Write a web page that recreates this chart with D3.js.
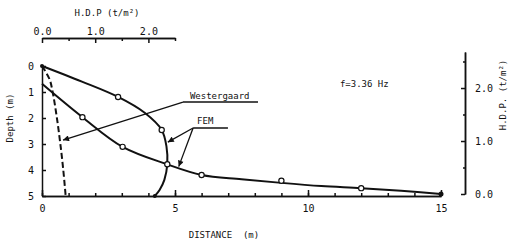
<!DOCTYPE html>
<html><head><meta charset="utf-8">
<script src="https://cdn.jsdelivr.net/npm/d3@7"></script>
<style>
body{margin:0;background:#fff;}
text{font-family:"DejaVu Sans Mono",monospace;fill:#111;}
</style></head>
<body><svg id="c" width="508" height="242"></svg>
<script>
// ---- data ----
const distTicks = [0, 5, 10, 15];
const depthTicks = [0, 1, 2, 3, 4, 5];
const topTicks = [0, 1, 2];
const rightTicks = [0, 1, 2];

// Westergaard (H.D.P., top axis) vs depth
const westDepth = [0, 0.5, 1, 2, 3, 4, 5];
const westHDP   = [0, 0.14, 0.2, 0.28, 0.345, 0.40, 0.445];

// FEM H.D.P. vs depth (top axis)
const femDepth = [0, 0.6, 1.19, 1.8, 2.46, 3.1, 3.78, 4.38, 4.77, 5.0];
const femHDP   = [0, 0.75, 1.43, 1.93, 2.25, 2.34, 2.355, 2.30, 2.21, 2.12];
const femMarkDepth = [1.19, 2.46, 3.78];
const femMarkHDP   = [1.43, 2.25, 2.355];

// FEM H.D.P. vs distance (right axis)
const surfDist = [0, 1.52, 3.03, 4.71, 6.0, 7.5, 9.0, 10.5, 12.0, 13.5, 15.0];
const surfHDP  = [2.08, 1.45, 0.89, 0.56, 0.36, 0.28, 0.21, 0.15, 0.11, 0.06, 0.0];
const surfMarkDist = [1.52, 3.03, 6.0, 9.0, 12.0];
const surfMarkHDP  = [1.45, 0.89, 0.36, 0.25, 0.11];

// ---- scales ----
const svg = d3.select("#c");
const x = d3.scaleLinear().domain([0, 15]).range([42, 441]);
const y = d3.scaleLinear().domain([0, 5]).range([66, 196]);
const xTop = d3.scaleLinear().domain([0, 2.5]).range([42, 175]);
const yR = d3.scaleLinear().domain([0, 2.68]).range([194, 52]);

function styleAxis(g){
  g.selectAll("path,line").attr("stroke","#111").attr("stroke-width",1.5);
  g.selectAll("text").attr("font-family","DejaVu Sans Mono").attr("font-size",10).attr("fill","#111");
}

// bottom axis
svg.append("g").attr("transform","translate(0,196)")
  .call(d3.axisBottom(x).tickValues(d3.range(0,16,1)).tickFormat("").tickSize(-3).tickSizeOuter(0)).call(styleAxis);
svg.append("g").attr("transform","translate(0,196)")
  .call(d3.axisBottom(x).tickValues(distTicks).tickFormat(d3.format("d")).tickSize(-6).tickPadding(9).tickSizeOuter(0)).call(styleAxis);

// left axis
svg.append("g").attr("transform","translate(42,0)")
  .call(d3.axisLeft(y).tickValues(depthTicks).tickFormat(d3.format("d")).tickSize(-4).tickPadding(8).tickSizeOuter(0)).call(styleAxis);

// top axis
svg.append("g").attr("transform","translate(0,38)")
  .call(d3.axisTop(xTop).tickValues([0.5,1.5,2.5]).tickFormat("").tickSize(-3).tickSizeOuter(0)).call(styleAxis);
svg.append("g").attr("transform","translate(0,38)")
  .call(d3.axisTop(xTop).tickValues(topTicks).tickFormat(d3.format(".1f")).tickSize(-5).tickPadding(3).tickSizeOuter(0)).call(styleAxis);

// right axis
svg.append("g").attr("transform","translate(465,0)")
  .call(d3.axisRight(yR).tickValues([0.5,1.5,2.5]).tickFormat("").tickSize(-2).tickSizeOuter(0)).call(styleAxis);
svg.append("g").attr("transform","translate(465,0)")
  .call(d3.axisRight(yR).tickValues(rightTicks).tickFormat(d3.format(".1f")).tickSize(-4).tickPadding(10).tickSizeOuter(0)).call(styleAxis);

// ---- curves ----
const lineV = d3.line().curve(d3.curveCatmullRom.alpha(0.5));
svg.append("path")
  .attr("d", lineV(westDepth.map((d,i)=>[xTop(westHDP[i]), y(d)])))
  .attr("fill","none").attr("stroke","#111").attr("stroke-width",2).attr("stroke-dasharray","6,3");
svg.append("path")
  .attr("d", lineV(femDepth.map((d,i)=>[xTop(femHDP[i]), y(d)])))
  .attr("fill","none").attr("stroke","#111").attr("stroke-width",2);
svg.append("path")
  .attr("d", lineV(surfDist.map((d,i)=>[x(d), yR(surfHDP[i])])))
  .attr("fill","none").attr("stroke","#111").attr("stroke-width",2);

// markers
const mk = [];
femMarkDepth.forEach((d,i)=>mk.push([xTop(femMarkHDP[i]), y(d)]));
surfMarkDist.forEach((d,i)=>mk.push([x(d), yR(surfMarkHDP[i])]));
svg.selectAll("circle.m").data(mk).enter().append("circle")
  .attr("cx",d=>d[0]).attr("cy",d=>d[1]).attr("r",2.6)
  .attr("fill","#fff").attr("stroke","#111").attr("stroke-width",1.2);
// end dots
svg.append("circle").attr("cx",xTop(femHDP[femHDP.length-1])).attr("cy",y(5)).attr("r",2).attr("fill","#111");
svg.append("circle").attr("cx",x(15)).attr("cy",yR(0)).attr("r",2.5).attr("fill","#111");
svg.append("circle").attr("cx",xTop(0)).attr("cy",y(0)).attr("r",2).attr("fill","#111");

// ---- annotations (data units) ----
const defs = svg.append("defs");
defs.append("marker").attr("id","ah").attr("viewBox","0 0 10 10").attr("refX",10).attr("refY",5)
  .attr("markerWidth",7).attr("markerHeight",6).attr("markerUnits","userSpaceOnUse").attr("orient","auto")
  .append("path").attr("d","M0,0L10,5L0,10z").attr("fill","#111");

function seg(a,b,arrow){
  const l = svg.append("line").attr("x1",x(a[0])).attr("y1",y(a[1])).attr("x2",x(b[0])).attr("y2",y(b[1]))
    .attr("stroke","#111").attr("stroke-width",1.3);
  if(arrow) l.attr("marker-end","url(#ah)");
}
// Westergaard label
seg([5.3,1.385],[8.12,1.385],false);
seg([5.3,1.385],[0.79,2.85],true);
svg.append("text").attr("x",x(5.56)).attr("y",y(1.27)).attr("font-size",9).text("Westergaard");
// FEM label
seg([5.68,2.385],[6.99,2.385],false);
seg([5.68,2.385],[4.73,2.93],true);
seg([5.68,2.385],[5.14,3.87],true);
svg.append("text").attr("x",x(5.83)).attr("y",y(2.23)).attr("font-size",9).text("FEM");
svg.append("text").attr("x",x(11.2)).attr("y",y(0.81)).attr("font-size",9).text("f=3.36 Hz");

// axis titles
svg.append("text").attr("x",107).attr("y",16).attr("text-anchor","middle").attr("font-size",9).text("H.D.P (t/m²)");
svg.append("text").attr("x",224).attr("y",238).attr("text-anchor","middle").attr("font-size",9).attr("xml:space","preserve").text("DISTANCE  (m)");
svg.append("text").attr("transform","translate(13,118) rotate(-90)").attr("text-anchor","middle").attr("font-size",9).text("Depth (m)");
svg.append("text").attr("transform","translate(506,95) rotate(-90)").attr("text-anchor","middle").attr("font-size",9).text("H.D.P. (t/m²)");
</script></body></html>
